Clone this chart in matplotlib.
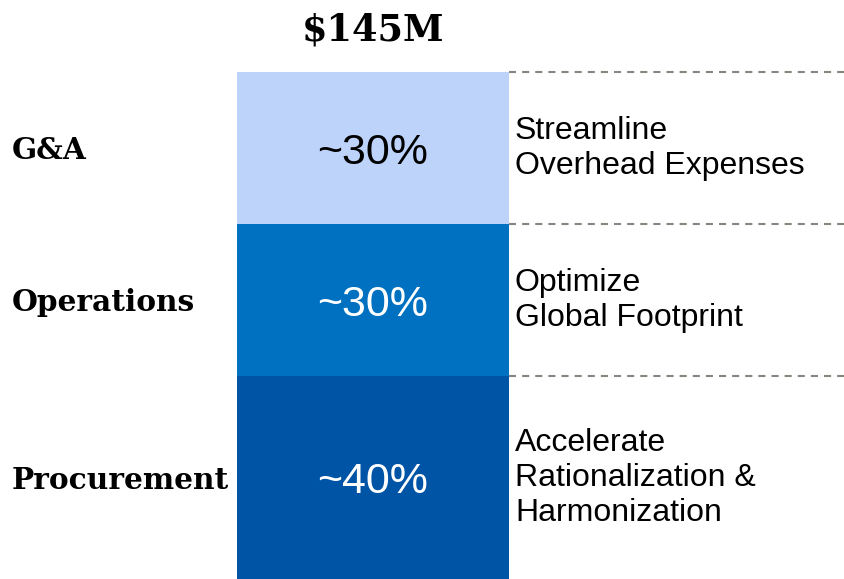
import numpy as np
import matplotlib.pyplot as plt

# data
categories = ["Procurement", "Operations", "G&A"]
shares = [40, 30, 30]
share_labels = ["~40%", "~30%", "~30%"]
descriptions = ["Accelerate\nRationalization &\nHarmonization",
                "Optimize\nGlobal Footprint",
                "Streamline\nOverhead Expenses"]
colors = ["#0054A6", "#0070C0", "#BDD3FA"]
text_colors = ["white", "white", "black"]
total_label = "$145M"

fig = plt.figure(figsize=(8.44, 5.79), dpi=100)
ax = fig.add_axes([0, 0, 1, 507 / 579])
ax.set_xlim(0, 844)
ax.set_ylim(0, 100)
ax.axis("off")

bar_x = 373
bar_w = 272
bottoms = np.concatenate([[0], np.cumsum(shares)[:-1]])
tops = np.cumsum(shares)
ax.bar(bar_x, shares, width=bar_w, bottom=bottoms, color=colors, linewidth=0)

for cat, s, lab, desc, tc, b, t in zip(categories, shares, share_labels, descriptions,
                                      text_colors, bottoms, tops):
    mid = b + s / 2
    ax.text(bar_x, mid - 0.9, lab, ha="center", va="center", fontsize=31,
            family="Liberation Sans", color=tc)
    ax.text(12, mid - 0.5, cat, ha="left", va="center", fontsize=21.3,
            family="DejaVu Serif", fontweight="bold", color="black")
    ax.text(515, mid, desc, ha="left", va="center", fontsize=23,
            family="Liberation Sans", linespacing=1.22, color="black")
    ax.plot([bar_x + bar_w / 2, 850], [t, t], color="#86867e", lw=1.5,
            ls=(0, (3.4, 2.9)), solid_capstyle="butt", clip_on=False)

fig.text(bar_x / 844, 1 - 30 / 579, total_label, ha="center", va="center",
         fontsize=26.5, family="DejaVu Serif", fontweight="bold")

fig.savefig("out.png", dpi=100)
